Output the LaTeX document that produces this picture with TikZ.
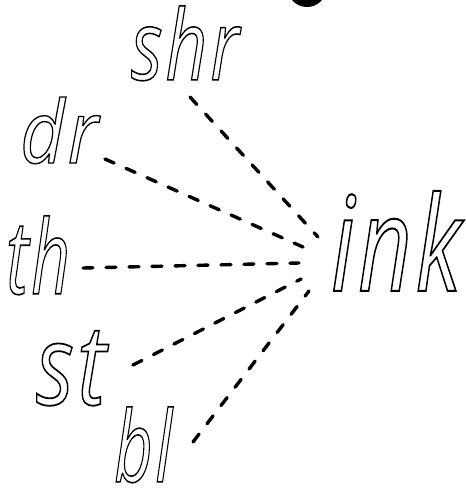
\documentclass[tikz,border=0pt]{standalone}
\usepackage{fontspec}
\setmainfont{Open Sans}
\newfontfamily\lblfont{Open Sans}[LetterSpace=4]
\usepackage{graphicx}
\newcommand{\outltxt}[1]{\special{pdf:code 1 Tr 1.5 w}#1\special{pdf:code 0 Tr}}
\begin{document}
\begin{tikzpicture}[x=1pt,y=-1pt,
  dl/.style={line width=3.4pt,dash pattern=on 10pt off 13pt,line cap=round},
  lbl/.style={inner sep=0pt,anchor=south west,font=\lblfont\itshape\fontsize{96}{96}\selectfont}]
\useasboundingbox (0,0) rectangle (466,491);
\begin{scope}
\clip (0,0) rectangle (466,491);
\fill (307,-12.6) circle (19.6);
\end{scope}
\node[lbl] (shr) at (131,81) {\resizebox{108pt}{74pt}{\outltxt{shr}}};
\node[lbl] (dr) at (20,164) {\resizebox{78pt}{66pt}{\outltxt{dr}}};
\node[lbl] (th) at (6,295) {\resizebox{64pt}{78pt}{\outltxt{th}}};
\node[lbl] (st) at (36,406) {\resizebox{70pt}{74pt}{\outltxt{st}}};
\node[lbl] (bl) at (114,483) {\resizebox{58pt}{75pt}{\outltxt{bl}}};
\node[lbl] (ink) at (331,291) {\resizebox{130pt}{100pt}{\outltxt{ink}}};
\coordinate (shrE) at (190,97);  \coordinate (inkA) at (318,237);
\coordinate (drE)  at (105,159); \coordinate (inkB) at (303,247);
\coordinate (thE)  at (83,268);  \coordinate (inkC) at (299,263);
\coordinate (stE)  at (133,365); \coordinate (inkD) at (301,279);
\coordinate (blE)  at (193,442); \coordinate (inkE) at (309,291);
\draw[dl] (shrE) -- (inkA);
\draw[dl] (drE) -- (inkB);
\draw[dl] (thE) -- (inkC);
\draw[dl] (stE) -- (inkD);
\draw[dl] (blE) -- (inkE);
\end{tikzpicture}
\end{document}
